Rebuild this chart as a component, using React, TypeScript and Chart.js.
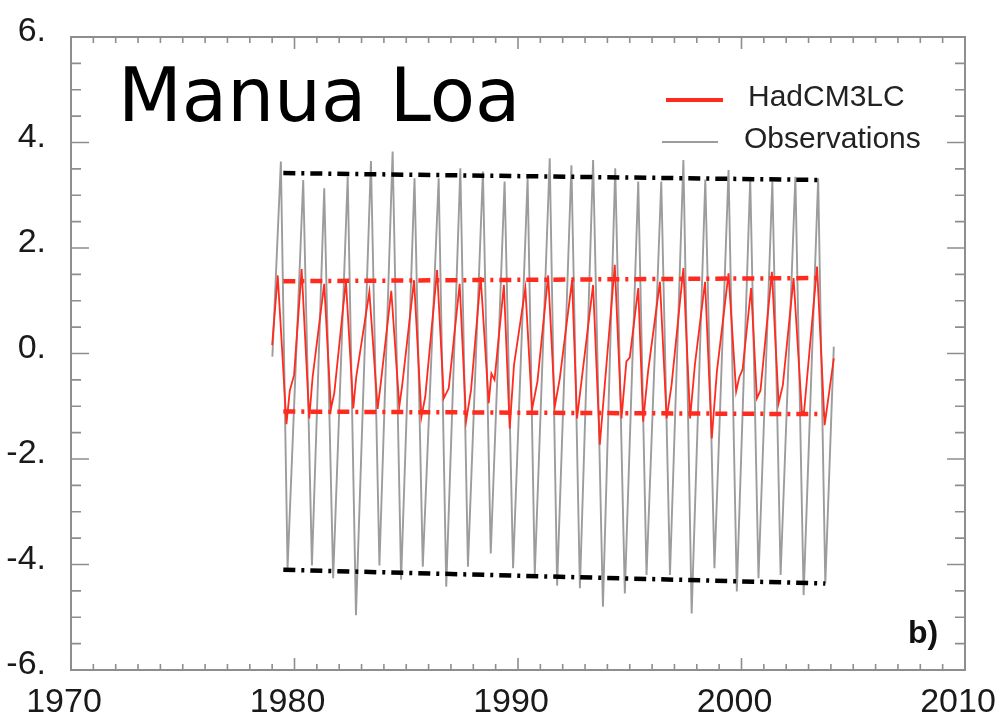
import React, { useEffect, useRef } from 'react';
import { Chart, registerables } from 'chart.js';

Chart.register(...registerables);

// ---- axes ----
const X_MIN = 1970;
const X_MAX = 2010;
const X_STEP = 10;
const Y_MIN = -6;
const Y_MAX = 6;
const Y_STEP = 2;
const xTickLabels = ['1970', '1980', '1990', '2000', '2010'];
const yTickLabels = ['-6.', '-4.', '-2.', '0.', '2.', '4.', '6.'];

// ---- texts ----
const titleText = 'Manua Loa';
const panelLabel = 'b)';
const seriesLabels = ['HadCM3LC', 'Observations'];

// ---- Observations (grey): turning points of the seasonal cycle ----
const obsYears = [
  1979.01, 1979.39, 1979.69, 1980.39, 1980.78, 1981.33, 1981.73, 1982.38, 1982.75,
  1983.42, 1983.8, 1984.39, 1984.77, 1985.37, 1985.74, 1986.45, 1986.79, 1987.42,
  1987.76, 1988.43, 1988.78, 1989.4, 1989.78, 1990.43, 1990.75, 1991.42, 1991.75,
  1992.39, 1992.77, 1993.36, 1993.8, 1994.35, 1994.78, 1995.38, 1995.75, 1996.41,
  1996.8, 1997.4, 1997.77, 1998.38, 1998.79, 1999.42, 1999.79, 2000.39, 2000.76,
  2001.38, 2001.75, 2002.41, 2002.78, 2003.43, 2003.75, 2004.13,
];
const obsValues = [
  -0.06, 3.64, -4.07, 3.29, -4.02, 3.13, -4.26, 3.35, -4.96,
  3.65, -4.02, 3.83, -4.29, 3.32, -4.04, 3.32, -4.42, 3.51,
  -4.04, 3.45, -3.79, 3.26, -4.07, 3.32, -4.2, 3.7, -4.4,
  3.57, -4.45, 3.67, -4.8, 3.51, -4.55, 3.26, -4.2, 3.26,
  -4.2, 3.67, -4.93, 3.3, -4.07, 3.48, -4.51, 3.32, -4.26,
  3.26, -4.2, 3.35, -4.58, 3.32, -4.36, 0.13,
];

// ---- HadCM3LC (red) ----
const modelYears = [
  1979.0, 1979.25, 1979.64, 1979.79, 1979.98,
  1980.32, 1980.66, 1980.81,
  1981.33, 1981.63, 1981.78,
  1982.3, 1982.63, 1982.76,
  1983.35, 1983.72, 1983.85,
  1984.33, 1984.69, 1984.82,
  1985.35, 1985.68, 1985.85,
  1986.38, 1986.68, 1986.9,
  1987.39, 1987.68, 1987.9,
  1988.33, 1988.69, 1988.81, 1988.95,
  1989.37, 1989.63, 1989.82,
  1990.33, 1990.63, 1990.87,
  1991.35, 1991.65, 1991.87,
  1992.42, 1992.64,
  1993.36, 1993.66,
  1994.33, 1994.63, 1994.85, 1995.0,
  1995.38, 1995.6, 1995.82,
  1996.35, 1996.65, 1996.87,
  1997.4, 1997.7, 1997.92,
  1998.37, 1998.67, 1998.9,
  1999.42, 1999.76, 1999.9, 2000.05,
  2000.43, 2000.69, 2000.85,
  2001.36, 2001.66, 2001.85,
  2002.33, 2002.7, 2002.8,
  2003.38, 2003.72, 2004.13,
];
const modelValues = [
  0.16, 1.48, -1.34, -0.7, -0.41,
  1.6, -1.23, -0.45,
  1.32, -1.05, -0.75,
  1.38, -1.04, -0.45,
  1.17, -1.05, -0.6,
  1.19, -1.0, -0.6,
  1.39, -1.2, -0.82,
  1.58, -0.85, -0.66,
  1.32, -1.28, -0.69,
  1.45, -0.94, -0.38, -0.5,
  1.3, -1.42, -0.22,
  1.24, -1.06, -0.53,
  1.48, -1.0, -0.47,
  1.39, -1.23,
  1.3, -1.73,
  1.68, -1.23, -0.15, -0.08,
  1.24, -1.29, -0.34,
  1.36, -1.23, -0.6,
  1.62, -1.23, -0.19,
  1.36, -1.61, -0.34,
  1.52, -0.72, -0.45, -0.3,
  1.24, -0.85, -0.7,
  1.55, -0.94, -0.6,
  1.43, -1.1, -1.1,
  1.65, -1.36, -0.09,
];

// ---- envelope (dash-dot) lines ----
const obsMaxEnvYears = [1979.5, 2003.45];
const obsMaxEnv = [3.42, 3.29];
const obsMinEnvYears = [1979.5, 2003.75];
const obsMinEnv = [-4.1, -4.36];
const modelMaxEnvYears = [1979.5, 2003.35];
const modelMaxEnv = [1.37, 1.43];
const modelMinEnvYears = [1979.5, 2003.75];
const modelMinEnv = [-1.1, -1.15];

const RED = '#ff2b1f';
const GREY = '#9c9c9c';
const AXIS_GREY = '#8e8e8e';
const FONT = "'Liberation Sans', Arial, sans-serif";

const pts = (xs: number[], ys: number[]) => xs.map((x, i) => ({ x, y: ys[i] }));

const framePlugin = {
  id: 'frame',
  afterDatasetsDraw(chart: any) {
    const { ctx, chartArea, scales } = chart;
    const { left, right, top, bottom } = chartArea;
    const xs = scales.x;
    const ys = scales.y;
    ctx.save();
    ctx.strokeStyle = AXIS_GREY;
    ctx.lineWidth = 2;
    ctx.strokeRect(left, top, right - left, bottom - top);
    ctx.lineWidth = 1.6;
    ctx.beginPath();
    for (let yr = X_MIN; yr <= X_MAX; yr += 1) {
      const px = xs.getPixelForValue(yr);
      const len = (yr - X_MIN) % X_STEP === 0 ? 12 : 6;
      ctx.moveTo(px, bottom);
      ctx.lineTo(px, bottom - len);
      ctx.moveTo(px, top);
      ctx.lineTo(px, top + len);
    }
    for (let k = 0; k <= (Y_MAX - Y_MIN) * 2; k++) {
      const v = Y_MIN + k * 0.5;
      const py = ys.getPixelForValue(v);
      const len = k % 4 === 0 ? 18 : 10;
      ctx.moveTo(left, py);
      ctx.lineTo(left + len, py);
      ctx.moveTo(right, py);
      ctx.lineTo(right - len, py);
    }
    ctx.stroke();

    // title
    ctx.fillStyle = '#000';
    ctx.font = "74px 'DejaVu Sans', sans-serif";
    ctx.textAlign = 'left';
    ctx.textBaseline = 'alphabetic';
    ctx.fillText(titleText, left + 47, top + 84);

    // legend
    ctx.lineCap = 'butt';
    ctx.strokeStyle = RED;
    ctx.lineWidth = 4;
    ctx.beginPath();
    ctx.moveTo(666, 100);
    ctx.lineTo(723, 100);
    ctx.stroke();
    ctx.strokeStyle = GREY;
    ctx.lineWidth = 2;
    ctx.beginPath();
    ctx.moveTo(662, 142);
    ctx.lineTo(718, 142);
    ctx.stroke();
    ctx.fillStyle = '#222';
    ctx.font = `30px ${FONT}`;
    ctx.textBaseline = 'middle';
    ctx.fillText(seriesLabels[0], 748, 98);
    ctx.fillText(seriesLabels[1], 744, 140);

    // panel label
    ctx.font = `bold 32px ${FONT}`;
    ctx.textBaseline = 'alphabetic';
    ctx.fillStyle = '#111';
    ctx.fillText(panelLabel, 908, 643);
    ctx.restore();
  },
};

export default function App() {
  const ref = useRef<HTMLCanvasElement | null>(null);

  useEffect(() => {
    if (!ref.current) return;
    const envStyle = (color: string) => ({
      borderColor: color,
      borderWidth: 4.5,
      borderDash: [12, 6, 3, 6],
      pointRadius: 0,
      tension: 0,
      fill: false,
      order: 0,
    });
    const chart = new Chart(ref.current, {
      type: 'line',
      data: {
        datasets: [
          { label: 'obsMax', data: pts(obsMaxEnvYears, obsMaxEnv), ...envStyle('#000') },
          { label: 'obsMin', data: pts(obsMinEnvYears, obsMinEnv), ...envStyle('#000') },
          { label: 'modelMax', data: pts(modelMaxEnvYears, modelMaxEnv), ...envStyle(RED) },
          { label: 'modelMin', data: pts(modelMinEnvYears, modelMinEnv), ...envStyle(RED) },
          {
            label: seriesLabels[0],
            data: pts(modelYears, modelValues),
            borderColor: RED,
            borderWidth: 1.8,
            pointRadius: 0,
            tension: 0,
            fill: false,
            order: 1,
          },
          {
            label: seriesLabels[1],
            data: pts(obsYears, obsValues),
            borderColor: GREY,
            borderWidth: 1.9,
            pointRadius: 0,
            tension: 0,
            fill: false,
            order: 2,
          },
        ],
      },
      options: {
        animation: false,
        responsive: false,
        devicePixelRatio: 1,
        layout: { padding: { top: 37, right: 38, left: 0, bottom: 0 } },
        plugins: { legend: { display: false }, tooltip: { enabled: false }, title: { display: false } },
        scales: {
          x: {
            type: 'linear',
            min: X_MIN,
            max: X_MAX,
            grid: { display: false, drawTicks: false },
            border: { display: false },
            afterFit: (s: any) => {
              s.height = 50;
              s.paddingLeft = 0;
              s.paddingRight = 0;
            },
            ticks: {
              stepSize: X_STEP,
              autoSkip: false,
              maxRotation: 0,
              padding: 12,
              labelOffset: -7,
              color: '#1a1a1a',
              font: { family: FONT, size: 34 },
              callback: (v: any) => xTickLabels[Math.round((Number(v) - X_MIN) / X_STEP)] ?? '',
            },
          },
          y: {
            type: 'linear',
            min: Y_MIN,
            max: Y_MAX,
            grid: { display: false, drawTicks: false },
            border: { display: false },
            afterFit: (s: any) => {
              s.width = 71;
              s.paddingTop = 0;
              s.paddingBottom = 0;
            },
            ticks: {
              stepSize: Y_STEP,
              autoSkip: false,
              padding: 25,
              labelOffset: -5,
              color: '#1a1a1a',
              font: { family: FONT, size: 34 },
              callback: (v: any) => yTickLabels[Math.round((Number(v) - Y_MIN) / Y_STEP)] ?? '',
            },
          },
        },
      },
      plugins: [framePlugin],
    } as any);
    return () => chart.destroy();
  }, []);

  return (
    <div style={{ position: 'absolute', left: 0, top: 0, width: 1003, height: 720, background: '#fff' }}>
      <canvas ref={ref} width={1003} height={720} style={{ width: 1003, height: 720, display: 'block' }} />
    </div>
  );
}
